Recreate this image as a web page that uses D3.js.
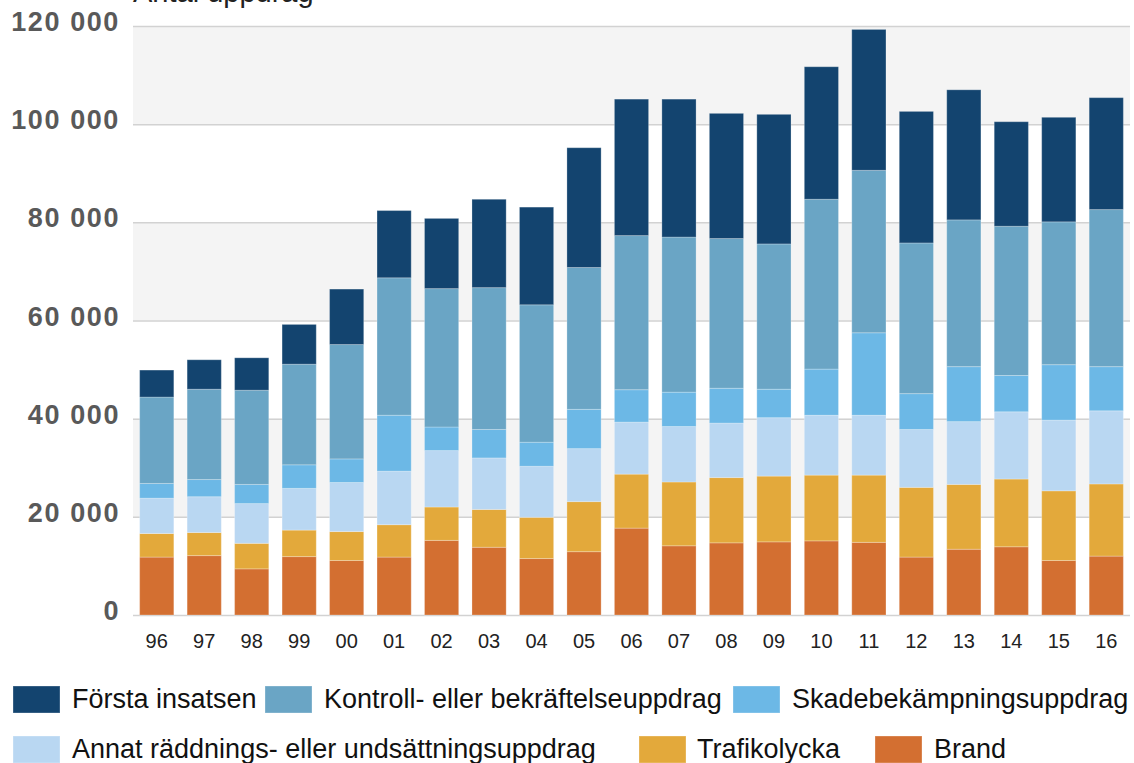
<!DOCTYPE html>
<html>
<head>
<meta charset="utf-8">
<script src="https://cdn.jsdelivr.net/npm/d3@7"></script>
<style>
  html, body { margin: 0; padding: 0; background: #ffffff; }
  svg { display: block; font-family: "Liberation Sans", Arial, sans-serif; }
</style>
</head>
<body>
<svg id="chart" width="1134" height="763"></svg>
<script>
// ---- data ----
const years = ["96","97","98","99","00","01","02","03","04","05","06","07","08","09","10","11","12","13","14","15","16"];
const brand        = [11800,12100, 9400,11900,11100,11800,15200,13800,11500,12900,17700,14100,14700,14900,15100,14800,11800,13400,13900,11100,12000];
const trafikolycka = [ 4800, 4700, 5200, 5400, 5900, 6600, 6800, 7700, 8400,10200,11000,13000,13300,13400,13400,13700,14200,13200,13800,14200,14700];
const annat        = [ 7200, 7300, 8100, 8500,10000,10900,11500,10500,10400,10800,10600,11300,11100,11900,12200,12200,11800,12800,13700,14400,14900];
const skade        = [ 3000, 3500, 3900, 4800, 4800,11400, 4800, 5800, 4900, 8000, 6600, 7000, 7100, 5800, 9400,16800, 7300,11200, 7400,11300, 9000];
const kontroll     = [17600,18400,19200,20500,23300,28000,28200,28900,28000,28900,31400,31600,30500,29600,34600,33100,30700,29900,30400,29100,32000];
const forsta       = [ 5500, 6000, 6600, 8100,11300,13700,14300,18000,19900,24400,27800,28100,25500,26400,27000,28700,26800,26500,21300,21300,22800];
const yTicks = [0, 20000, 40000, 60000, 80000, 100000, 120000];
const yTitle = "Antal uppdrag";

const seriesKeys   = ["brand","trafikolycka","annat","skade","kontroll","forsta"];
const seriesValues = { brand, trafikolycka, annat, skade, kontroll, forsta };
const seriesNames  = {
  forsta: "Första insatsen",
  kontroll: "Kontroll- eller bekräftelseuppdrag",
  skade: "Skadebekämpningsuppdrag",
  annat: "Annat räddnings- eller undsättningsuppdrag",
  trafikolycka: "Trafikolycka",
  brand: "Brand"
};
const colors = {
  forsta: "#13446f",
  kontroll: "#6aa5c5",
  skade: "#6cb8e6",
  annat: "#b9d7f2",
  trafikolycka: "#e3a93b",
  brand: "#d36f31"
};

// ---- layout ----
const svg = d3.select("#chart");
const plot = { left: 133, right: 1130, top: 26, bottom: 615 };

const x = d3.scaleBand().domain(years).range([plot.left, plot.right])
  .paddingInner(0.28).paddingOuter(0.14);
const y = d3.scaleLinear().domain([0, 120000]).range([plot.bottom, plot.top]);

// alternating background bands
const bands = d3.pairs(yTicks).filter((d, i) => i % 2 === 1);
svg.append("g").selectAll("rect").data(bands).join("rect")
  .attr("x", plot.left).attr("width", plot.right - plot.left)
  .attr("y", d => y(d[1])).attr("height", d => y(d[0]) - y(d[1]))
  .attr("fill", "#f4f4f4");

// gridlines + y labels via axis
const yAxis = d3.axisLeft(y).tickValues(yTicks)
  .tickSize(-(plot.right - plot.left))
  .tickFormat(d => d3.format(",")(d).replace(/,/g, " "));
const gy = svg.append("g").attr("transform", `translate(${plot.left},0)`).call(yAxis);
gy.select(".domain").remove();
gy.selectAll(".tick line").attr("stroke", "#d2d2d2").attr("stroke-width", 1.5);
gy.selectAll(".tick text")
  .attr("x", -13).attr("dy", "0.32em").attr("y", -4)
  .attr("fill", "#595959").attr("font-size", 27).attr("font-weight", "bold")
  .attr("letter-spacing", "1.6px")
  .attr("font-family", "'Liberation Sans', Arial, sans-serif");

// y title (cut off at top, as in the reference)
svg.append("text").attr("x", 133).attr("y", 2)
  .attr("font-size", 29).attr("fill", "#222").text(yTitle);

// stacked bars
const table = years.map((yr, i) => {
  const row = { year: yr };
  seriesKeys.forEach(k => row[k] = seriesValues[k][i]);
  return row;
});
const stacked = d3.stack().keys(seriesKeys)(table);
svg.append("g").selectAll("g").data(stacked).join("g")
  .attr("fill", d => colors[d.key])
  .selectAll("rect").data(d => d).join("rect")
  .attr("x", d => x(d.data.year))
  .attr("width", x.bandwidth())
  .attr("y", d => y(d[1]))
  .attr("height", d => y(d[0]) - y(d[1]))
  .attr("stroke", "rgba(255,255,255,0.25)").attr("stroke-width", 1);

// x axis labels
const xAxis = d3.axisBottom(x).tickSize(0).tickPadding(0);
const gx = svg.append("g").attr("transform", `translate(0,${plot.bottom})`).call(xAxis);
gx.select(".domain").remove();
gx.selectAll(".tick text")
  .attr("y", 33).attr("dy", 0)
  .attr("fill", "#222").attr("font-size", 20)
  .attr("font-family", "'Liberation Sans', Arial, sans-serif");

// legend
const legendItems = [
  { key: "forsta", sx: 13, tx: 72, row: 0 },
  { key: "kontroll", sx: 265, tx: 324, row: 0 },
  { key: "skade", sx: 733, tx: 792, row: 0 },
  { key: "annat", sx: 13, tx: 72, row: 1 },
  { key: "trafikolycka", sx: 639, tx: 697, row: 1 },
  { key: "brand", sx: 875, tx: 934, row: 1 }
];
const rowY = [686, 736];
const lg = svg.append("g");
lg.selectAll("rect").data(legendItems).join("rect")
  .attr("x", d => d.sx).attr("y", d => rowY[d.row])
  .attr("width", 47).attr("height", 27)
  .attr("fill", d => colors[d.key])
  .attr("stroke", "rgba(255,255,255,0.3)").attr("stroke-width", 1);
lg.selectAll("text").data(legendItems).join("text")
  .attr("x", d => d.tx).attr("y", d => rowY[d.row] + 22)
  .attr("font-size", 27).attr("fill", "#111")
  .text(d => seriesNames[d.key]);
</script>
</body>
</html>
